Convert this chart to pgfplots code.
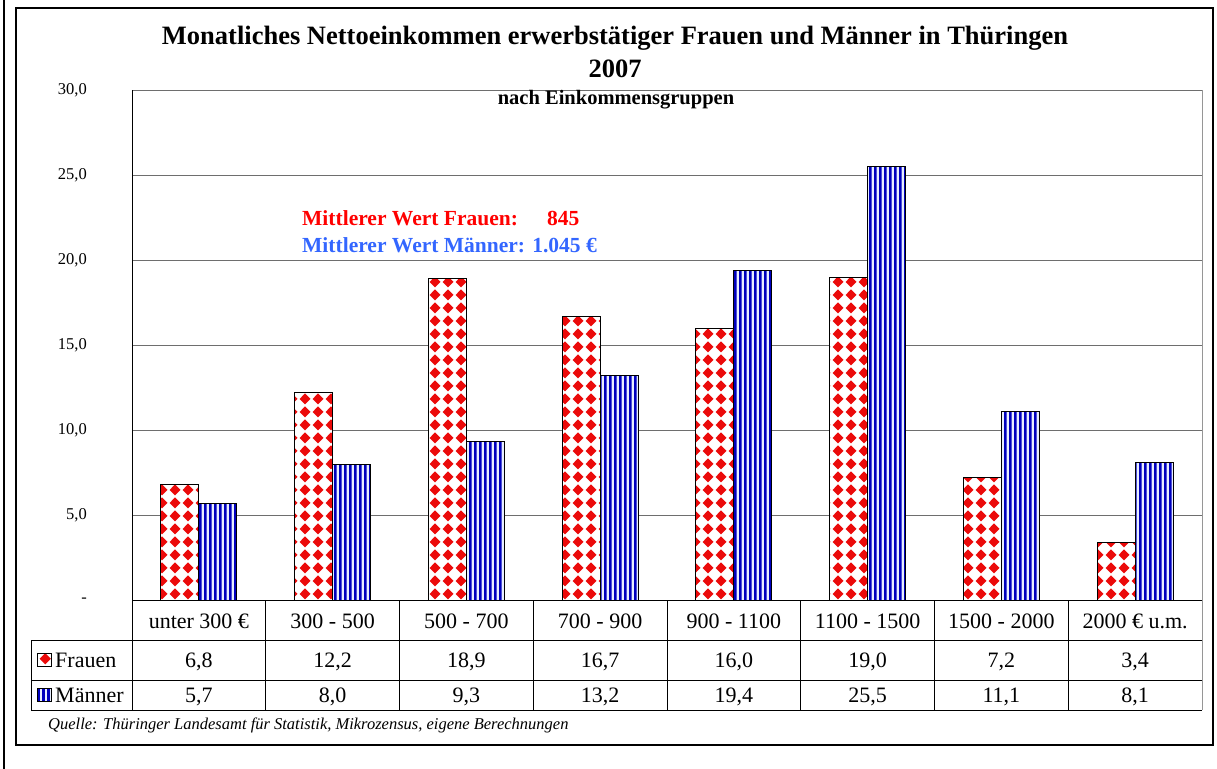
\documentclass[border=0pt]{standalone}
\usepackage{pgfplots}
\pgfplotsset{compat=1.18}
\usepackage{fontspec}
\setmainfont{Liberation Serif}
\usetikzlibrary{patterns.meta}
\definecolor{gridgray}{RGB}{110,110,110}
\definecolor{framegray}{RGB}{150,150,150}
\definecolor{stripeblue}{RGB}{0,0,190}
\definecolor{stripelight}{RGB}{232,238,255}
\definecolor{dotred}{RGB}{235,10,10}
\definecolor{avgred}{RGB}{255,0,0}
\definecolor{avgblue}{RGB}{51,102,255}

\tikzdeclarepattern{
  name=frauenpat,
  type=colored,
  bounding box={(0bp,0bp) and (13bp,13bp)},
  tile size={(13bp,13bp)},
  code={
    \fill[white] (0bp,0bp) rectangle (13bp,13bp);
    \fill[dotred] (6.5bp,0.6bp) -- (12.4bp,6.5bp) -- (6.5bp,12.4bp) -- (0.6bp,6.5bp) -- cycle;
  }
}
\tikzdeclarepattern{
  name=maennerpat,
  type=colored,
  bounding box={(0bp,0bp) and (5.4bp,800bp)},
  tile size={(5.4bp,800bp)},
  code={
    \fill[stripelight] (0bp,0bp) rectangle (5.4bp,800bp);
    \fill[stripeblue] (0bp,0bp) rectangle (3bp,800bp);
  }
}

\begin{document}
\begin{tikzpicture}
\useasboundingbox (0bp,0bp) rectangle (1217bp,-769bp);

\begin{axis}[
  at={(132bp,-600bp)}, anchor=south west,
  scale only axis, width=1070bp, height=510bp,
  xmin=-0.5, xmax=7.5, ymin=0, ymax=30,
  xtick=\empty,
  ytick={0,5,10,15,20,25,30},
  yticklabels={{-\hspace{18bp}},{5,0},{10,0},{15,0},{20,0},{25,0},{30,0}},
  yticklabel style={font=\fontsize{16.5bp}{18bp}\selectfont, anchor=east, inner sep=0pt, xshift=-45bp},
  ymajorgrids, grid style={gridgray, line width=1bp},
  axis line style={draw=none},
  major tick length=0pt,
  ybar=0pt, bar width=38bp,
  clip=false,
]
\addplot[draw=black, line width=0.9bp, pattern=frauenpat]
  coordinates {(0,6.8) (1,12.2) (2,18.9) (3,16.7) (4,16.0) (5,19.0) (6,7.2) (7,3.4)};
\addplot[draw=black, line width=0.9bp, pattern=maennerpat]
  coordinates {(0,5.7) (1,8.0) (2,9.3) (3,13.2) (4,19.4) (5,25.5) (6,11.1) (7,8.1)};
\end{axis}

\begin{scope}[x=1bp, y=-1bp]
  % plot frame
  \draw[black, line width=1bp] (132,90) -- (132,600);
  \draw[framegray, line width=1bp] (1202,90) -- (1202,600);
  % data table
  \draw[black, line width=1bp] (132,600) -- (1202,600);
  \draw[black, line width=1bp] (132,640) -- (132,600);
  \draw[black, line width=1bp] (31,640) -- (1202,640);
  \draw[black, line width=1bp] (31,680) -- (1202,680);
  \draw[black, line width=1bp] (31,710) -- (1202,710);
  \draw[black, line width=1bp] (31,640) -- (31,710);
  \foreach \k in {0,...,7} {
    \draw[black, line width=1bp] ({132+133.75*\k},600) -- ({132+133.75*\k},710);
  }
  \draw[framegray, line width=1bp] (1202,600) -- (1202,710);
  % header labels
  \foreach \i/\t in {0/{unter 300 €},1/{300 - 500},2/{500 - 700},3/{700 - 900},4/{900 - 1100},5/{1100 - 1500},6/{1500 - 2000},7/{2000 € u.m.}} {
    \node[anchor=base, inner sep=0pt, font=\fontsize{22bp}{24bp}\selectfont] at ({198.875+133.75*\i},628) {\t};
  }
  \foreach \i/\f/\m in {0/6{,}8/5{,}7, 1/12{,}2/8{,}0, 2/18{,}9/9{,}3, 3/16{,}7/13{,}2, 4/16{,}0/19{,}4, 5/19{,}0/25{,}5, 6/7{,}2/11{,}1, 7/3{,}4/8{,}1} {
    \node[anchor=base, inner sep=0pt, font=\fontsize{22bp}{24bp}\selectfont] at ({198.875+133.75*\i},667) {\f};
    \node[anchor=base, inner sep=0pt, font=\fontsize{22bp}{24bp}\selectfont] at ({198.875+133.75*\i},702) {\m};
  }
  % legend keys
  \draw[black, line width=0.8bp, pattern=frauenpat] (37,653) rectangle (51,666);
  \draw[black, line width=0.8bp, pattern=maennerpat] (37,688) rectangle (51,701);
  \node[anchor=base west, inner sep=0pt, font=\fontsize{22bp}{24bp}\selectfont] at (55,667) {Frauen};
  \node[anchor=base west, inner sep=0pt, font=\fontsize{22bp}{24bp}\selectfont] at (55,702) {Männer};
  % titles
  \node[anchor=base, inner sep=0pt, font=\fontsize{26.5bp}{30bp}\selectfont\bfseries] at (615,44) {Monatliches Nettoeinkommen erwerbstätiger Frauen und Männer in Thüringen};
  \node[anchor=base, inner sep=0pt, font=\fontsize{26.5bp}{30bp}\selectfont\bfseries] at (615,77) {2007};
  \node[anchor=base, inner sep=0pt, font=\fontsize{20.5bp}{24bp}\selectfont\bfseries] at (616,104) {nach Einkommensgruppen};
  % mean annotations
  \node[anchor=base west, inner sep=0pt, text=avgred, font=\fontsize{21.5bp}{24bp}\selectfont\bfseries] at (302,225) {Mittlerer Wert Frauen:};
  \node[anchor=base west, inner sep=0pt, text=avgred, font=\fontsize{21.5bp}{24bp}\selectfont\bfseries] at (547,225) {845};
  \node[anchor=base west, inner sep=0pt, text=avgblue, font=\fontsize{21.5bp}{24bp}\selectfont\bfseries] at (302,252) {Mittlerer Wert Männer: 1.045 €};
  % source
  \node[anchor=base west, inner sep=0pt, font=\fontsize{16.5bp}{18bp}\selectfont\itshape] at (48,729) {Quelle: Thüringer Landesamt für Statistik, Mikrozensus, eigene Berechnungen};
  % outer frames
  \draw[black, line width=1.3bp] (16,8) rectangle (1213,745);
  \draw[black, line width=2bp] (4,0) -- (4,769);
\end{scope}
\end{tikzpicture}
\end{document}
